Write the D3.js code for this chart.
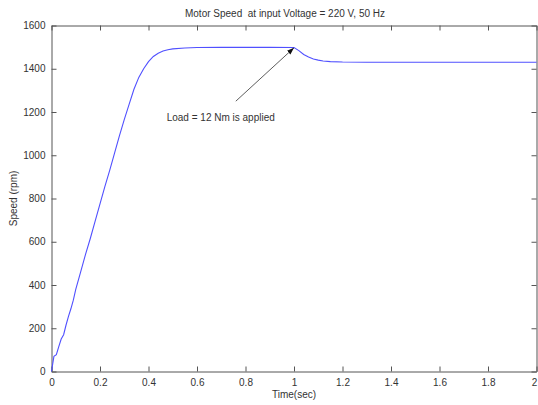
<!DOCTYPE html>
<html>
<head>
<meta charset="utf-8">
<script src="https://cdn.jsdelivr.net/npm/d3@7"></script>
<style>
  body { margin: 0; background: #fff; }
  text { font-family: "Liberation Sans", Arial, sans-serif; fill: #333; white-space: pre; }
</style>
</head>
<body>
<div class="canvas"></div>
<script>
// data
const time = [0, 0.005, 0.01, 0.02, 0.03, 0.04, 0.05, 0.06, 0.07, 0.08, 0.09, 0.1,
  0.12, 0.14, 0.16, 0.18, 0.2, 0.22, 0.24, 0.26, 0.28, 0.3, 0.32, 0.34, 0.36, 0.38,
  0.4, 0.42, 0.44, 0.46, 0.48, 0.5, 0.55, 0.6, 0.7, 0.8, 0.9, 1.0,
  1.02, 1.04, 1.06, 1.08, 1.1, 1.12, 1.15, 1.2, 1.3, 1.5, 2.0];
const speed = [0, 35, 70, 78, 115, 150, 170, 215, 255, 290, 330, 380,
  460, 540, 615, 695, 775, 855, 930, 1010, 1090, 1165, 1235, 1305, 1360, 1400,
  1433, 1457, 1472, 1482, 1488, 1492, 1496, 1498, 1499, 1499, 1499, 1498,
  1484, 1466, 1454, 1445, 1440, 1436, 1433, 1431, 1430, 1430, 1430];
const xTicks = [0, 0.2, 0.4, 0.6, 0.8, 1, 1.2, 1.4, 1.6, 1.8, 2];
const yTicks = [0, 200, 400, 600, 800, 1000, 1200, 1400, 1600];
const titleText = "Motor Speed  at input Voltage = 220 V, 50 Hz";
const xLabel = "Time(sec)";
const yLabel = "Speed (rpm)";
const noteText = "Load = 12 Nm is applied";
const notePoint = { from: [0.76, 1250], to: [1.0, 1497] };

const margin = { top: 25.5, right: 1.5, bottom: 33.5, left: 51.5 };
const width = 538, height = 405;
const graphWidth = width - margin.left - margin.right;
const graphHeight = height - margin.top - margin.bottom;

const svg = d3.select(".canvas").append("svg")
  .attr("width", width)
  .attr("height", height);

svg.append("defs").append("marker")
  .attr("id", "head")
  .attr("viewBox", "0 0 10 10")
  .attr("refX", 10).attr("refY", 5)
  .attr("markerWidth", 9).attr("markerHeight", 9)
  .attr("orient", "auto")
  .append("path")
  .attr("d", "M0,1.5 L10,5 L0,8.5 Z")
  .attr("fill", "#111");

const graph = svg.append("g")
  .attr("transform", `translate(${margin.left},${margin.top})`);

const x = d3.scaleLinear().domain([0, 2]).range([0, graphWidth]);
const y = d3.scaleLinear().domain([0, 1600]).range([graphHeight, 0]);

// axes, ticks pointing inwards like matlab
const fmt = d => d;
const xAxisGroup = graph.append("g")
  .attr("transform", `translate(0,${graphHeight})`)
  .call(d3.axisBottom(x).tickValues(xTicks).tickFormat(fmt).tickSizeInner(-5).tickSizeOuter(0).tickPadding(7));
graph.append("g")
  .call(d3.axisTop(x).tickValues(xTicks).tickFormat("").tickSizeInner(-5).tickSizeOuter(0));
graph.append("g")
  .call(d3.axisLeft(y).tickValues(yTicks).tickFormat(fmt).tickSizeInner(-5).tickSizeOuter(0).tickPadding(6));
graph.append("g")
  .attr("transform", `translate(${graphWidth},0)`)
  .call(d3.axisRight(y).tickValues(yTicks).tickFormat("").tickSizeInner(-5).tickSizeOuter(0));

graph.selectAll(".domain").attr("stroke", "#555");
graph.selectAll(".tick line").attr("stroke", "#555");
graph.selectAll(".tick text").style("font-size", "10px").attr("fill", "#333");

// keep the last x label inside the window
xAxisGroup.selectAll(".tick text")
  .filter(d => d === 2)
  .attr("dx", -2.5);

// line
const line = d3.line()
  .x((d, i) => x(time[i]))
  .y(d => y(d));

graph.append("path")
  .datum(speed)
  .attr("fill", "none")
  .attr("stroke", "#5050ff")
  .attr("stroke-width", 1.1)
  .attr("d", line);

// annotation
graph.append("line")
  .attr("x1", x(notePoint.from[0])).attr("y1", y(notePoint.from[1]))
  .attr("x2", x(notePoint.to[0])).attr("y2", y(notePoint.to[1]))
  .attr("stroke", "#333")
  .attr("stroke-width", 0.8)
  .attr("marker-end", "url(#head)");

graph.append("text")
  .attr("x", x(0.475))
  .attr("y", y(1160))
  .style("font-size", "10px")
  .text(noteText);

// titles
svg.append("text")
  .attr("x", 285).attr("y", 17)
  .attr("text-anchor", "middle")
  .style("font-size", "10px")
  .text(titleText);

svg.append("text")
  .attr("x", margin.left + graphWidth / 2).attr("y", 398)
  .attr("text-anchor", "middle")
  .style("font-size", "10px")
  .text(xLabel);

svg.append("text")
  .attr("transform", `translate(17,${margin.top + graphHeight / 2}) rotate(-90)`)
  .attr("text-anchor", "middle")
  .style("font-size", "10px")
  .text(yLabel);
</script>
</body>
</html>
